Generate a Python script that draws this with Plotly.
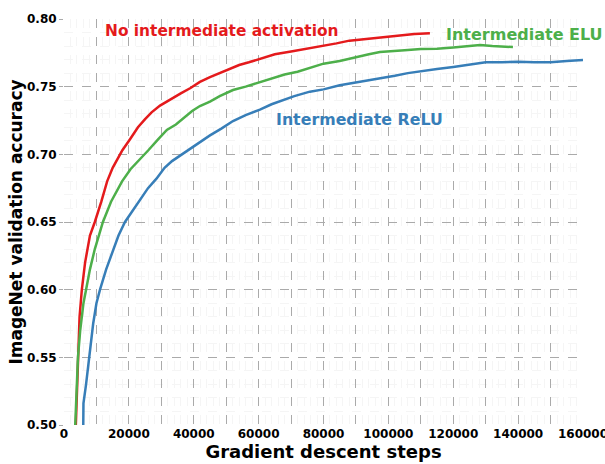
import plotly.graph_objects as go

red_x = [3500, 3900, 4300, 4800, 5500, 6500, 8000, 9500, 11500, 13300, 15000, 16300, 18000, 20300,
         22800, 25000, 27000, 29600, 33000, 36000, 39000, 41900, 45000, 48000, 51000, 54000, 57000,
         61000, 65000, 70000, 75000, 79000, 84000, 88000, 92000, 96000, 100000, 104000, 108000, 112800]
red_y = [0.49, 0.52, 0.55, 0.58, 0.60, 0.62, 0.64, 0.65, 0.665, 0.68, 0.69, 0.696, 0.703, 0.711,
         0.72, 0.726, 0.731, 0.736, 0.741, 0.745, 0.749, 0.7535, 0.757, 0.760, 0.763, 0.766, 0.768,
         0.771, 0.774, 0.776, 0.778, 0.780, 0.782, 0.784, 0.785, 0.786, 0.787, 0.788, 0.789, 0.7895]

green_x = [3300, 3700, 4300, 5000, 6000, 6800, 8000, 9500, 12000, 14500, 17900, 20500, 23400, 26000,
           29000, 31700, 34500, 37000, 39500, 41900, 45000, 48000, 52100, 56000, 60000, 64000, 68000,
           72000, 76000, 80000, 85000, 90000, 94000, 97400, 101000, 105000, 110000, 115000, 120000,
           124000, 128300, 132000, 135000, 138400]
green_y = [0.49, 0.52, 0.55, 0.57, 0.59, 0.60, 0.615, 0.63, 0.65, 0.665, 0.68, 0.689, 0.696, 0.703,
           0.711, 0.718, 0.722, 0.727, 0.732, 0.7357, 0.739, 0.743, 0.7475, 0.750, 0.753, 0.756, 0.759,
           0.761, 0.764, 0.767, 0.769, 0.772, 0.774, 0.7756, 0.776, 0.777, 0.7778, 0.778, 0.779,
           0.780, 0.7808, 0.780, 0.7798, 0.7793]

blue_x = [5900, 6000, 6800, 7700, 9000, 10000, 11100, 13000, 15000, 16800, 18800, 21000, 23500, 25900,
          28500, 31000, 33300, 35800, 38000, 41900, 45000, 48500, 52100, 56000, 60400, 64000, 67500,
          71000, 75800, 80000, 85000, 90000, 95000, 97400, 102000, 106000, 110000, 115000, 120000,
          125000, 130000, 135000, 140000, 145000, 150000, 155000, 160000]
blue_y = [0.49, 0.516, 0.53, 0.55, 0.575, 0.59, 0.60, 0.615, 0.628, 0.64, 0.65, 0.658, 0.667, 0.675,
          0.682, 0.69, 0.695, 0.699, 0.703, 0.709, 0.714, 0.719, 0.7246, 0.729, 0.733, 0.737, 0.740,
          0.743, 0.7463, 0.748, 0.751, 0.753, 0.755, 0.756, 0.758, 0.760, 0.7615, 0.763, 0.7645,
          0.766, 0.768, 0.768, 0.7685, 0.768, 0.768, 0.769, 0.7697]

x_tickvals = [0, 10000, 20000, 30000, 40000, 50000, 60000, 70000, 80000, 90000, 100000,
              110000, 120000, 130000, 140000, 150000, 160000]
x_ticktext = ["0", "", "20000", "", "40000", "", "60000", "", "80000", "", "100000",
              "", "120000", "", "140000", "", "160000"]
y_tickvals = [0.50, 0.55, 0.60, 0.65, 0.70, 0.75, 0.80]

RED, GREEN, BLUE = "#e41a1c", "#4daf4a", "#377eb8"
FONT = "DejaVu Sans"

fig = go.Figure()
fig.add_trace(go.Scatter(x=red_x, y=red_y, mode="lines", line=dict(color=RED, width=2.5)))
fig.add_trace(go.Scatter(x=green_x, y=green_y, mode="lines", line=dict(color=GREEN, width=2.5)))
fig.add_trace(go.Scatter(x=blue_x, y=blue_y, mode="lines", line=dict(color=BLUE, width=2.5)))

fig.add_annotation(x=48700, y=0.7915, text="<b>No intermediate activation</b>", showarrow=False,
                   font=dict(family=FONT, size=15.4, color=RED))
fig.add_annotation(x=142100, y=0.7885, text="<b>Intermediate ELU</b>", showarrow=False,
                   font=dict(family=FONT, size=16, color=GREEN))
fig.add_annotation(x=91100, y=0.726, text="<b>Intermediate ReLU</b>", showarrow=False,
                   font=dict(family=FONT, size=15.8, color=BLUE))

fig.update_layout(
    width=605, height=464,
    margin=dict(l=64, r=22, t=19, b=39),
    paper_bgcolor="white", plot_bgcolor="white",
    showlegend=False,
    font=dict(family=FONT, color="black"),
)
fig.update_xaxes(
    range=[0, 160000], tickvals=x_tickvals, ticktext=x_ticktext,
    tickfont=dict(family=FONT, size=12, color="black", weight="bold"),
    ticklabeloverflow="allow",
    showgrid=True, gridcolor="#aaaaaa", gridwidth=1, griddash="dash",
    minor=dict(dtick=2000, showgrid=True, gridcolor="#f5f5f5", gridwidth=1),
    zeroline=False, showline=False, ticks="", automargin=False,
    title=dict(text="<b>Gradient descent steps</b>", font=dict(family=FONT, size=18, color="black"),
               standoff=2),
)
fig.update_yaxes(
    range=[0.50, 0.80], tickvals=y_tickvals, tickformat=".2f",
    tickfont=dict(family=FONT, size=12, color="black", weight="bold"),
    showgrid=True, gridcolor="#aaaaaa", gridwidth=1, griddash="dash",
    minor=dict(dtick=0.01, showgrid=True, gridcolor="#f5f5f5", gridwidth=1),
    zeroline=False, showline=False, ticks="outside", ticklen=4, tickcolor="#aaaaaa",
    automargin=False,
    title=dict(text="<b>ImageNet validation accuracy</b>", font=dict(family=FONT, size=17, color="black"),
               standoff=0),
)

fig.write_html("out.html")
